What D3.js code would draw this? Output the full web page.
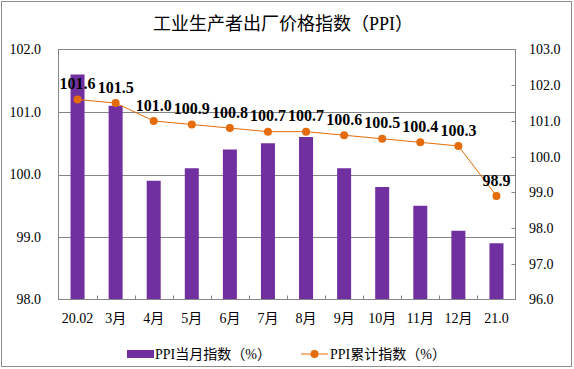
<!DOCTYPE html>
<html><head><meta charset="utf-8">
<script src="https://cdn.jsdelivr.net/npm/d3@7"></script>
<style>body{margin:0;background:#fff}svg{display:block}</style>
</head><body>
<script>
const categories = ["20.02","3月","4月","5月","6月","7月","8月","9月","10月","11月","12月","21.0"];
const monthly = [101.6,101.1,99.9,100.1,100.4,100.5,100.6,100.1,99.8,99.5,99.1,98.9];
const cumulative = [101.6,101.5,101.0,100.9,100.8,100.7,100.7,100.6,100.5,100.4,100.3,98.9];
const leftTicks = [98,99,100,101,102];
const rightTicks = [96,97,98,99,100,101,102,103];
const title = "工业生产者出厂价格指数（PPI）";
const seriesNames = ["PPI当月指数（%）","PPI累计指数（%）"];

const W=574,H=369;
const FONT = '"Liberation Serif","Times New Roman","Noto Sans CJK SC",serif';
const svg = d3.select("body").append("svg").attr("width",W).attr("height",H)
  .style("font-family",FONT);
svg.append("rect").attr("x",1.5).attr("y",1.5).attr("width",570).attr("height",365)
  .attr("fill","#fff").attr("stroke","#8c8c8c").attr("stroke-width",1);

const L=58.5,R=515.5,T=49.5,B=299.5;
const x = d3.scaleBand().domain(categories).range([L,R]).paddingInner(0).paddingOuter(0);
const yL = d3.scaleLinear().domain([98,102]).range([B,T]);
const yR = d3.scaleLinear().domain([96,103]).range([B,T]);
const grid="#868686";

// gridlines
svg.append("g").selectAll("line").data(leftTicks.slice(1,-1)).join("line")
  .attr("x1",L).attr("x2",R).attr("y1",d=>Math.round(yL(d))+0.5).attr("y2",d=>Math.round(yL(d))+0.5)
  .attr("stroke",grid).attr("stroke-width",1);

// bars
const bw = 14;
svg.append("g").selectAll("rect").data(monthly).join("rect")
  .attr("x",(d,i)=>x(categories[i])+x.bandwidth()/2-bw/2)
  .attr("y",d=>yL(d)).attr("width",bw).attr("height",d=>B-yL(d))
  .attr("fill","#7030A0");

// plot box
svg.append("rect").attr("x",L).attr("y",T).attr("width",R-L).attr("height",B-T)
  .attr("fill","none").attr("stroke",grid).attr("stroke-width",1);

// left axis labels
svg.append("g").selectAll("text").data(leftTicks).join("text")
  .attr("x",41).attr("y",d=>yL(d)).attr("dy","0.35em").attr("text-anchor","end")
  .attr("font-size",14).attr("fill","#000").text(d=>d.toFixed(1));

// right axis ticks + labels
svg.append("g").selectAll("line").data(rightTicks.slice(1,-1)).join("line")
  .attr("x1",R-4).attr("x2",R).attr("y1",d=>Math.round(yR(d))+0.5).attr("y2",d=>Math.round(yR(d))+0.5)
  .attr("stroke",grid);
svg.append("g").selectAll("text").data(rightTicks).join("text")
  .attr("x",529).attr("y",d=>yR(d)).attr("dy","0.35em").attr("text-anchor","start")
  .attr("font-size",14).attr("fill","#000").text(d=>d.toFixed(1));

// bottom ticks (between categories)
svg.append("g").selectAll("line").data(categories.slice(1)).join("line")
  .attr("x1",d=>Math.round(x(d))+0.5).attr("x2",d=>Math.round(x(d))+0.5)
  .attr("y1",B-4).attr("y2",B).attr("stroke",grid);
svg.append("g").selectAll("text").data(categories).join("text")
  .attr("x",d=>x(d)+x.bandwidth()/2).attr("y",318).attr("dy","0.35em")
  .attr("text-anchor","middle").attr("font-size",14).text(d=>d);

// line
const orange="#E46C0A";
const line = d3.line().x((d,i)=>x(categories[i])+x.bandwidth()/2).y(d=>yR(d));
svg.append("path").datum(cumulative).attr("d",line).attr("fill","none")
  .attr("stroke",orange).attr("stroke-width",1);
svg.append("g").selectAll("circle").data(cumulative).join("circle")
  .attr("cx",(d,i)=>x(categories[i])+x.bandwidth()/2).attr("cy",d=>yR(d)).attr("r",4)
  .attr("fill",orange);
svg.append("g").selectAll("text").data(cumulative).join("text")
  .attr("x",(d,i)=>x(categories[i])+x.bandwidth()/2).attr("y",d=>yR(d)-16).attr("dy","0.35em")
  .attr("text-anchor","middle").attr("font-size",16).attr("font-weight","bold").text(d=>d.toFixed(1));

// title
svg.append("text").attr("x",283).attr("y",24).attr("dy","0.35em").attr("text-anchor","middle")
  .attr("font-size",18).attr("fill","#000").text(title);

// legend
const ly=354;
svg.append("rect").attr("x",127).attr("y",ly-4).attr("width",27).attr("height",8).attr("fill","#7030A0");
svg.append("text").attr("x",155).attr("y",ly).attr("dy","0.35em").attr("font-size",14).text(seriesNames[0]);
svg.append("line").attr("x1",301).attr("x2",328).attr("y1",ly).attr("y2",ly).attr("stroke",orange).attr("stroke-width",1);
svg.append("circle").attr("cx",314.5).attr("cy",ly).attr("r",4).attr("fill",orange);
svg.append("text").attr("x",330).attr("y",ly).attr("dy","0.35em").attr("font-size",14).text(seriesNames[1]);
</script>
</body></html>
